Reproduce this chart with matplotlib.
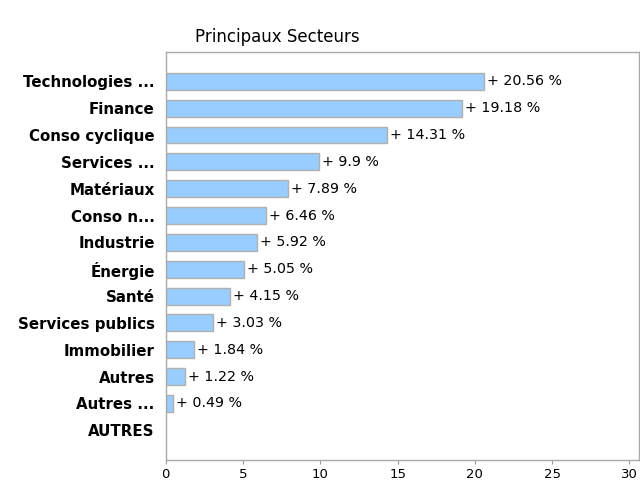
import matplotlib
matplotlib.use("Agg")
import matplotlib.pyplot as plt

# Répartition sectorielle (%)
secteurs = ["Technologies ...", "Finance", "Conso cyclique", "Services ...",
            "Matériaux", "Conso n...", "Industrie", "Énergie", "Santé",
            "Services publics", "Immobilier", "Autres", "Autres ...", "AUTRES"]
poids = [20.56, 19.18, 14.31, 9.9, 7.89, 6.46, 5.92, 5.05, 4.15,
         3.03, 1.84, 1.22, 0.49, 0.0]
graduations = [0, 5, 10, 15, 20, 25, 30]

fig = plt.figure(figsize=(6.4, 4.84), dpi=100)
ax = fig.add_axes([0.259, 0.05, 0.739, 0.843])

pos = list(range(len(secteurs)))
valeurs = [(i, v) for i, v in zip(pos, poids) if v > 0]
ax.barh([i for i, _ in valeurs], [v for _, v in valeurs], height=0.63,
        color="#99ccff", edgecolor="#b0b0b0", linewidth=1.0)

for i, v in valeurs:
    ax.text(v + 0.2, i, f"+ {v:g} %", va="center", ha="left",
            fontsize=10.3, color="black")

ax.set_xlim(0, 30.6)
ax.set_ylim(13 + 1.1, -1.1)
ax.set_yticks(pos)
ax.set_yticklabels(secteurs, fontsize=10.8, fontweight="bold")
ax.set_xticks(graduations)
ax.set_xticklabels([str(g) for g in graduations], fontsize=9.5)
ax.tick_params(axis="y", length=0, pad=8)
ax.tick_params(axis="x", length=3, color="#999999", pad=3)

for s in ax.spines.values():
    s.set_color("#aaaaaa")
    s.set_linewidth(1.0)

fig.text(0.305, 0.923, "Principaux Secteurs", fontsize=12, ha="left", va="center")

fig.savefig("out.png", dpi=100)
